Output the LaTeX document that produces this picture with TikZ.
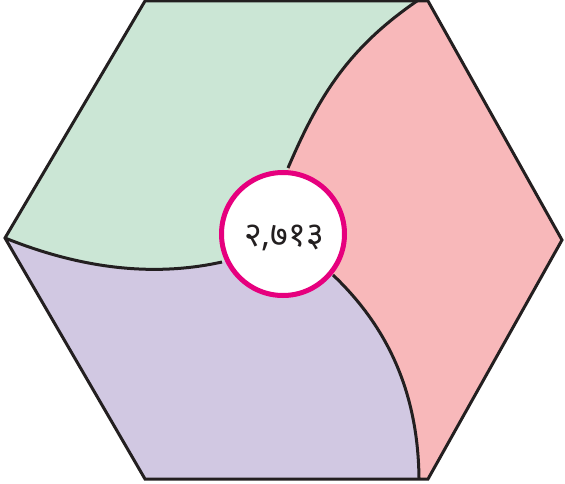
\documentclass[tikz,border=0pt]{standalone}
\usepackage{fontspec}
\newfontfamily\devfont[Script=Devanagari]{Noto Sans}
\definecolor{greenfill}{RGB}{203,230,213}
\definecolor{pinkfill}{RGB}{248,184,186}
\definecolor{purplefill}{RGB}{209,200,226}
\definecolor{ring}{RGB}{230,0,126}
\definecolor{edge}{RGB}{35,31,32}
\begin{document}
\begin{tikzpicture}[x=1pt,y=-1pt,
  outline/.style={draw=edge,line width=3pt},
  ringnode/.style={circle,draw=ring,fill=white,line width=5pt,minimum size=123pt,inner sep=0pt}]
\useasboundingbox (0,0) rectangle (565,484);
\coordinate (L) at (5,238);
\coordinate (TL) at (145,1);
\coordinate (TR) at (428,1);
\coordinate (R) at (562,240);
\coordinate (BR) at (428,479);
\coordinate (BL) at (145,479);
\coordinate (TS) at (417,1);
\coordinate (BS) at (419,478);
\coordinate (C) at (283,234);
\coordinate (CL) at (222,262);
\coordinate (CT) at (288,168);
\coordinate (CB) at (333,275);
% regions
\fill[greenfill] (L) -- (TL) -- (TS) .. controls (347,49) and (318,98) .. (CT) -- (C) -- (CL) .. controls (150,278) and (77,267) .. (L) -- cycle;
\fill[pinkfill] (TS) -- (TR) -- (R) -- (BR) -- (BS) .. controls (418,400) and (393,332) .. (CB) -- (C) -- (CT) .. controls (318,98) and (347,49) .. (TS) -- cycle;
\fill[purplefill] (L) .. controls (77,267) and (150,278) .. (CL) -- (C) -- (CB) .. controls (393,332) and (418,400) .. (BS) -- (BL) -- cycle;
% dividing curves
\draw[outline] (L) .. controls (77,267) and (150,278) .. (CL);
\draw[outline] (TS) .. controls (347,49) and (318,98) .. (CT);
\draw[outline] (CB) .. controls (393,332) and (418,400) .. (BS);
% hexagon
\draw[outline] (L) -- (TL) -- (TR) -- (R) -- (BR) -- (BL) -- cycle;
% centre
\node[ringnode] (centre) at (C) {};
\node[text=edge] (label) at (284,238) {\devfont\fontsize{34}{38}\selectfont २,७१३};
\end{tikzpicture}
\end{document}
